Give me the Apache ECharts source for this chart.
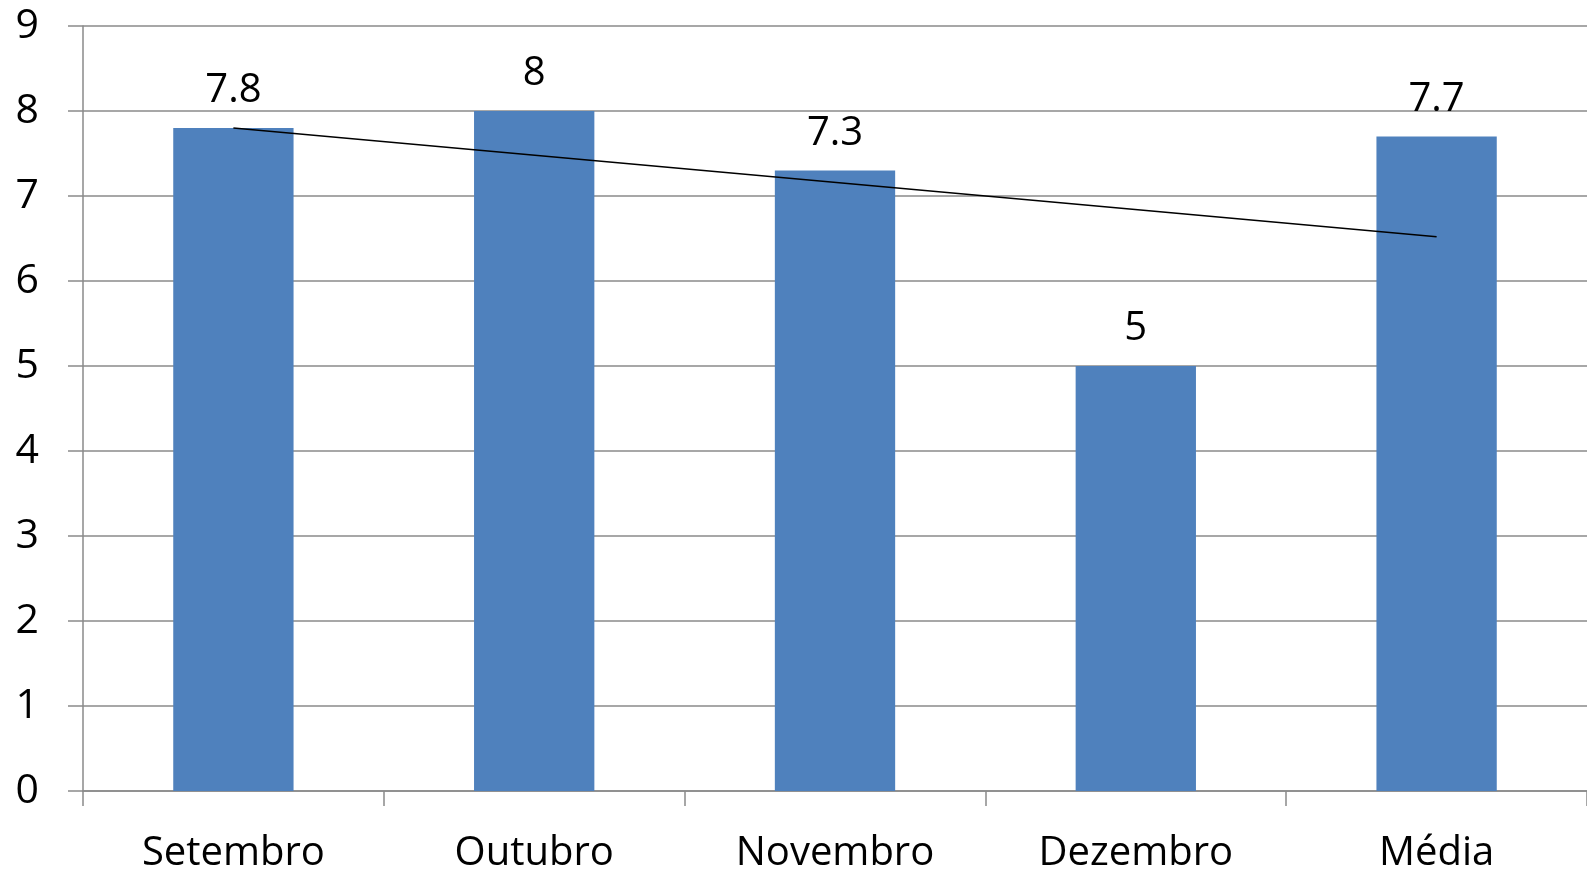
<!DOCTYPE html>
<html>
<head>
<meta charset="utf-8">
<script src="https://cdn.jsdelivr.net/npm/echarts@6/dist/echarts.min.js"></script>
<style>
html,body{margin:0;padding:0;background:#fff;}
#chart{width:1587px;height:874px;}
</style>
</head>
<body>
<div id="chart"></div>
<script>
const categories = ['Setembro', 'Outubro', 'Novembro', 'Dezembro', 'Média'];
const values = [7.8, 8, 7.3, 5, 7.7];
const trendStart = [0, 7.8];
const trendEnd = [4, 6.52];
const yTicks = { min: 0, max: 9, interval: 1 };

const FONT = 'Open Sans';
const GRAY = '#8a8a8a';

const chart = echarts.init(document.getElementById('chart'), null, { renderer: 'canvas' });
chart.setOption({
  animation: false,
  backgroundColor: '#ffffff',
  grid: { left: 83, right: 0, top: 26, bottom: 82, containLabel: false },
  xAxis: {
    type: 'category',
    data: categories,
    boundaryGap: true,
    axisLine: { show: true, lineStyle: { color: GRAY, width: 1.5 } },
    axisTick: { show: true, length: 15, inside: false, alignWithLabel: false, lineStyle: { color: GRAY, width: 1.5 } },
    axisLabel: { color: '#000', fontFamily: FONT, fontSize: 40, margin: 43, interval: 0 },
    splitLine: { show: false }
  },
  yAxis: {
    type: 'value',
    min: yTicks.min, max: yTicks.max, interval: yTicks.interval,
    axisLine: { show: true, lineStyle: { color: GRAY, width: 1.5 } },
    axisTick: { show: true, length: 15, lineStyle: { color: GRAY, width: 1.5 } },
    axisLabel: { color: '#000', fontFamily: FONT, fontSize: 41, margin: 44 },
    splitLine: { show: true, lineStyle: { color: GRAY, width: 1.5 } }
  },
  series: [
    {
      type: 'bar',
      data: values,
      barWidth: '40%',
      itemStyle: { color: '#4F81BD' },
      label: {
        show: true, position: 'top', distance: 17,
        color: '#000', fontFamily: FONT, fontSize: 40
      },
      z: 2
    },
    {
      type: 'line',
      data: [trendStart, trendEnd],
      symbol: 'none',
      lineStyle: { color: '#000', width: 1.5 },
      z: 3
    }
  ]
});
</script>
</body>
</html>
